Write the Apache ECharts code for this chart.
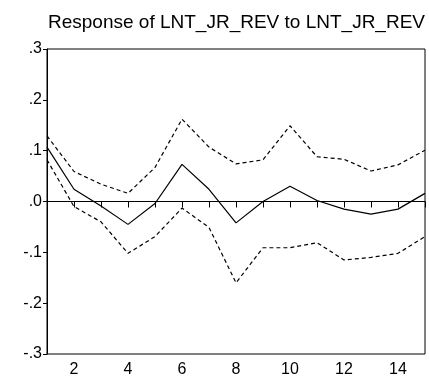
<!DOCTYPE html>
<html><head><meta charset="utf-8">
<script src="https://cdn.jsdelivr.net/npm/echarts@6/dist/echarts.min.js"></script>
<style>html,body{margin:0;padding:0;background:#fff}#c{width:429px;height:383px}</style>
</head><body><div id="c"></div>
<script>
const periods = ['1','2','3','4','5','6','7','8','9','10','11','12','13','14','15'];
const response = [0.107, 0.024, -0.009, -0.045, -0.004, 0.073, 0.024, -0.042, 0.000, 0.030, 0.002, -0.015, -0.025, -0.015, 0.016];
const upperBand = [0.129, 0.059, 0.034, 0.016, 0.067, 0.162, 0.107, 0.074, 0.082, 0.149, 0.088, 0.083, 0.060, 0.072, 0.101];
const lowerBand = [0.082, -0.010, -0.040, -0.102, -0.069, -0.013, -0.051, -0.160, -0.091, -0.091, -0.081, -0.115, -0.110, -0.102, -0.069];
const titleText = 'Response of LNT_JR_REV to LNT_JR_REV';

const chart = echarts.init(document.getElementById('c'), null, {renderer:'canvas'});
const font = 'Liberation Sans, Arial, sans-serif';
chart.setOption({
  animation: false,
  title: {text: titleText, left: 43, top: 8, padding: 5,
    textStyle: {fontFamily: font, fontSize: 19, fontWeight: 'normal', color: '#000'}},
  grid: {left: 47, right: 4, top: 49, bottom: 29, show: true, borderColor: '#000', borderWidth: 1, backgroundColor: 'transparent'},
  xAxis: {type: 'category', data: periods, boundaryGap: false,
    axisLine: {show: true, lineStyle: {color: '#000', width: 1}},
    axisTick: {show: true, inside: false, length: 6, interval: 0, lineStyle: {color: '#000'}},
    axisLabel: {interval: function(i){return i % 2 === 1;}, color: '#000', fontFamily: font, fontSize: 16, margin: 8},
    splitLine: {show: false}},
  yAxis: {type: 'value', min: -0.3, max: 0.3, interval: 0.1,
    axisLine: {show: true, lineStyle: {color: '#000', width: 1}},
    axisTick: {show: true, inside: false, length: 4, lineStyle: {color: '#000'}},
    axisLabel: {color: '#000', fontFamily: font, fontSize: 16, margin: 5,
      formatter: function(v){ let s = (Math.round(v*10)/10).toFixed(1); if (s === '-0.0') s = '0.0'; return s.replace('0.', '.'); }},
    splitLine: {show: false}},
  series: [
    {type: 'line', data: response, symbol: 'none', lineStyle: {color: '#000', width: 1.2},
      markLine: {silent: true, symbol: 'none', label: {show: false}, lineStyle: {color: '#000', type: 'solid', width: 1}, data: [{yAxis: 0}]}},
    {type: 'line', data: upperBand, symbol: 'none', lineStyle: {color: '#000', width: 1.2, type: [4, 3]}},
    {type: 'line', data: lowerBand, symbol: 'none', lineStyle: {color: '#000', width: 1.2, type: [4, 3]}}
  ]
});
</script></body></html>
